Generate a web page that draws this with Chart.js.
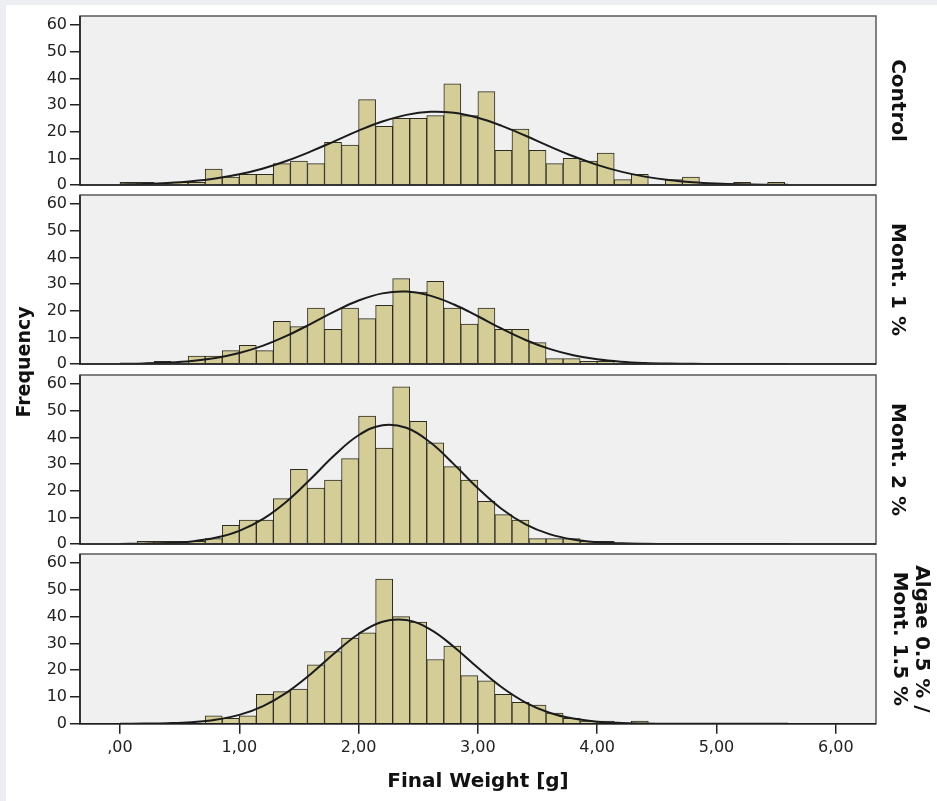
<!DOCTYPE html>
<html>
<head>
<meta charset="utf-8">
<script src="https://cdn.jsdelivr.net/npm/chart.js@4.4.1/dist/chart.umd.min.js"></script>
<style>
  html, body { margin: 0; padding: 0; }
  body { width: 937px; height: 801px; background: #eceef2; position: relative; overflow: hidden; }
  #sheet { position: absolute; left: 6px; top: 5px; width: 931px; height: 796px; background: #ffffff; }
  .panel { position: absolute; left: 0; }
  #freq {
    position: absolute; left: -77px; top: 350px; width: 200px; height: 24px;
    line-height: 24px; text-align: center; transform: rotate(-90deg);
    font-family: "DejaVu Sans", sans-serif; font-weight: bold; font-size: 19px; color: #111;
  }
</style>
</head>
<body>
<div id="sheet"></div>
<canvas id="panel0" class="panel" width="937" height="195" style="top:3px"></canvas>
<canvas id="panel1" class="panel" width="937" height="195" style="top:182px"></canvas>
<canvas id="panel2" class="panel" width="937" height="195" style="top:362px"></canvas>
<canvas id="panel3" class="panel" width="937" height="260" style="top:541px"></canvas>
<div id="freq">Frequency</div>
<script>
// histogram bins are 1/7 g wide, first bin starts at 0
const bin_Width = 1 / 7;

const control_Counts = [1, 1, 0, 1, 1, 6, 3, 4, 4, 8, 9, 8, 16, 15, 32, 22, 25, 25, 26, 38, 26,
  35, 13, 21, 13, 8, 10, 9, 12, 2, 4, 0, 2, 3, 0, 0, 1, 0, 1, 0, 0, 0];
const mont1_Counts = [0, 0, 1, 0, 3, 3, 5, 7, 5, 16, 14, 21, 13, 21, 17, 22, 32, 27, 31, 21, 15,
  21, 13, 13, 8, 2, 2, 1, 1, 0, 0, 0, 0, 0, 0, 0, 0, 0, 0, 0, 0, 0];
const mont2_Counts = [0, 1, 1, 1, 1, 2, 7, 9, 9, 17, 28, 21, 24, 32, 48, 36, 59, 46, 38, 29, 24,
  16, 11, 9, 2, 2, 2, 1, 1, 0, 0, 0, 0, 0, 0, 0, 0, 0, 0, 0, 0, 0];
const algae_Counts = [0, 0, 0, 0, 0, 3, 2, 3, 11, 12, 13, 22, 27, 32, 34, 54, 40, 38, 24, 29, 18,
  16, 11, 8, 7, 4, 2, 1, 1, 0, 1, 0, 0, 0, 0, 0, 0, 0, 0, 0, 0, 0];

// normal curves, every 0.2 g
const curve_X = [0, 0.2, 0.4, 0.6, 0.8, 1.0, 1.2, 1.4, 1.6, 1.8, 2.0, 2.2, 2.4, 2.6, 2.8,
  3.0, 3.2, 3.4, 3.6, 3.8, 4.0, 4.2, 4.4, 4.6, 4.8, 5.0, 5.2, 5.4, 5.6];
const control_Curve = [0.19, 0.39, 0.76, 1.40, 2.43, 4.00, 6.20, 9.09, 12.59, 16.48, 20.39, 23.82,
  26.31, 27.45, 27.07, 25.21, 22.19, 18.46, 14.51, 10.77, 7.56, 5.01, 3.14, 1.86, 1.04, 0.55, 0.27, 0.13, 0.06];
const mont1_Curve = [0.09, 0.23, 0.54, 1.15, 2.27, 4.12, 6.89, 10.62, 15.09, 19.75, 23.83, 26.50,
  27.16, 25.65, 22.32, 17.91, 13.24, 9.02, 5.67, 3.28, 1.75, 0.86, 0.39, 0.16, 0.06, 0.02, 0.01, 0, 0];
const mont2_Curve = [0.04, 0.12, 0.37, 0.98, 2.32, 4.94, 9.41, 16.04, 24.47, 33.39, 40.79, 44.58,
  43.59, 38.16, 29.88, 20.94, 13.13, 7.37, 3.70, 1.66, 0.67, 0.24, 0.08, 0.02, 0.01, 0, 0, 0, 0];
const algae_Curve = [0.02, 0.07, 0.22, 0.61, 1.51, 3.34, 6.62, 11.73, 18.61, 26.40, 33.53, 38.10,
  38.74, 35.25, 28.70, 20.91, 13.63, 7.95, 4.15, 1.94, 0.81, 0.30, 0.10, 0.03, 0.01, 0, 0, 0, 0];

const panel_Names = ["Control", "Mont. 1 %", "Mont. 2 %", ["Algae 0.5 % /", "Mont. 1.5 %"]];
const y_Ticks = [0, 10, 20, 30, 40, 50, 60];
const x_Ticks = [0, 1, 2, 3, 4, 5, 6];
const x_Tick_Labels = [",00", "1,00", "2,00", "3,00", "4,00", "5,00", "6,00"];
const x_Title = "Final Weight [g]";

//grey panel + frame
const panel_Frame = {
  id: "panelFrame",
  beforeDraw(chart) {
    const { ctx, chartArea: a } = chart;
    ctx.save();
    ctx.fillStyle = "#f0f0f0";
    ctx.fillRect(a.left, a.top, a.width, a.height);
    ctx.restore();
  },
  afterDatasetsDraw(chart) {
    const { ctx, chartArea: a } = chart;
    ctx.save();
    ctx.strokeStyle = "#5a5a5a";
    ctx.lineWidth = 1.5;
    ctx.strokeRect(a.left, a.top, a.width, a.height);
    ctx.strokeStyle = "#1e1e1e";
    ctx.beginPath();
    ctx.moveTo(a.left, a.top);
    ctx.lineTo(a.left, a.bottom);
    ctx.lineTo(a.right, a.bottom);
    ctx.stroke();
    ctx.restore();
  },
};

function create_Panel(canvas_Id, counts, curve, name, is_Bottom) {
  const bars = counts.map((c, k) => ({ x: (k + 0.5) * bin_Width, y: c }));
  const line = curve.map((v, i) => ({ x: curve_X[i], y: v }));
  const two_Lines = Array.isArray(name);
  const tick_Font = { family: "DejaVu Sans", size: 16 };

  return new Chart(document.getElementById(canvas_Id), {
    type: "bar",
    data: {
      datasets: [
        {
          type: "line",
          data: line,
          borderColor: "#1b1b1b",
          borderWidth: 2,
          pointRadius: 0,
          tension: 0.4,
          order: 0,
        },
        {
          type: "bar",
          data: bars,
          backgroundColor: "#d4cd98",
          borderColor: "#2e2c22",
          borderWidth: 1,
          barPercentage: 1,
          categoryPercentage: 1,
          order: 1,
        },
      ],
    },
    options: {
      responsive: false,
      animation: false,
      devicePixelRatio: 1,
      layout: { padding: { top: 13, bottom: is_Bottom ? 0 : 13, left: 0, right: 0 } },
      plugins: {
        legend: { display: false },
        tooltip: { enabled: false },
        title: {
          display: true,
          position: "right",
          fullSize: false,
          text: name,
          color: "#111",
          font: { family: "DejaVu Sans", size: 20, weight: "bold", lineHeight: 1.1 },
          padding: two_Lines ? { top: 5, bottom: 12 } : { top: 29, bottom: 10 },
        },
      },
      scales: {
        x: {
          type: "linear",
          min: -0.335,
          max: 6.337,
          offset: false,
          border: { display: false },
          grid: {
            offset: false,
            drawOnChartArea: false,
            drawTicks: is_Bottom,
            tickLength: 10,
            color: "#222",
            lineWidth: 1.5,
          },
          ticks: {
            display: is_Bottom,
            padding: 4,
            color: "#222",
            font: tick_Font,
            maxRotation: 0,
            callback: (v, i) => x_Tick_Labels[i],
          },
          afterBuildTicks: (s) => {
            s.ticks = x_Ticks.map((v) => ({ value: v }));
          },
          title: {
            display: is_Bottom,
            text: x_Title,
            color: "#111",
            font: { family: "DejaVu Sans", size: 20, weight: "bold" },
            padding: { top: 9, bottom: 7 },
          },
        },
        y: {
          min: 0,
          max: 63.4,
          border: { display: false },
          grid: {
            drawOnChartArea: false,
            tickLength: 10,
            color: "#222",
            lineWidth: 1.5,
          },
          ticks: { padding: 3, color: "#222", font: tick_Font },
          afterBuildTicks: (s) => {
            s.ticks = y_Ticks.map((v) => ({ value: v }));
          },
          afterFit: (s) => {
            s.width = 80;
          },
        },
      },
    },
    plugins: [panel_Frame],
  });
}

create_Panel("panel0", control_Counts, control_Curve, panel_Names[0], false);
create_Panel("panel1", mont1_Counts, mont1_Curve, panel_Names[1], false);
create_Panel("panel2", mont2_Counts, mont2_Curve, panel_Names[2], false);
create_Panel("panel3", algae_Counts, algae_Curve, panel_Names[3], true);
</script>
</body>
</html>
